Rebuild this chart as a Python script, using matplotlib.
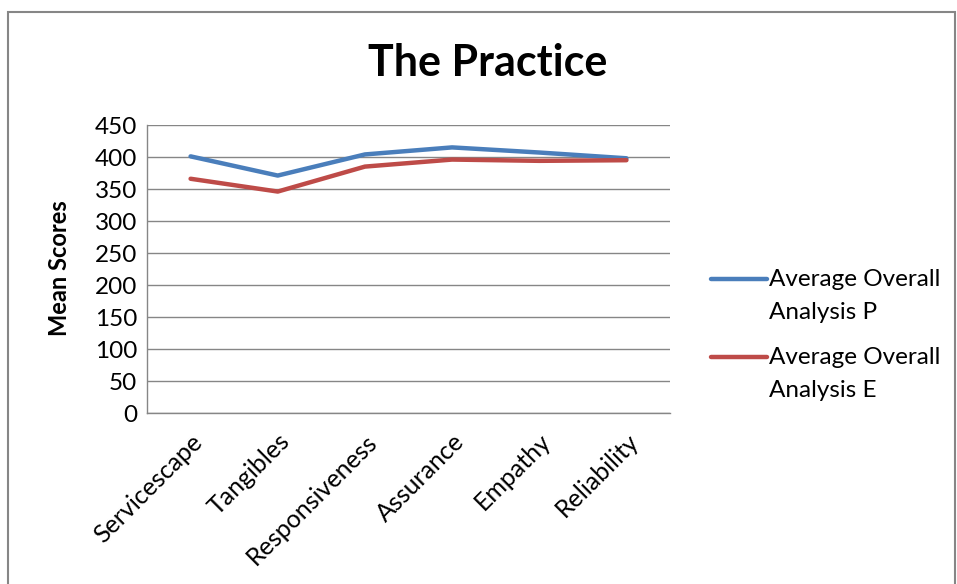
import matplotlib
matplotlib.use("Agg")
import matplotlib.pyplot as plt
from matplotlib.patches import Rectangle
from matplotlib.lines import Line2D

categories = ["Servicescape", "Tangibles", "Responsiveness", "Assurance", "Empathy", "Reliability"]
series_p = [401, 371, 404, 415, 407, 398]
series_e = [366, 346, 385, 396, 394, 395]
label_p = "Average Overall\nAnalysis P"
label_e = "Average Overall\nAnalysis E"
yticks = [0, 50, 100, 150, 200, 250, 300, 350, 400, 450]
color_p = "#4A7EBB"
color_e = "#BE4B48"

W, H = 957, 584
plt.rcParams["font.family"] = ["Lato", "DejaVu Sans"]
fig = plt.figure(figsize=(W / 100, H / 100), dpi=100)

# outer chart frame
fig.add_artist(Rectangle((8 / W, -0.05), (955 - 8) / W, 1.05 - 12 / H,
                         transform=fig.transFigure, fill=False,
                         edgecolor="#868686", lw=1.5))

ax = fig.add_axes([147 / W, 1 - 413 / H, (670 - 147) / W, (413 - 125) / H])
x = range(len(categories))
ax.plot(x, series_p, color=color_p, lw=3.2, solid_capstyle="round")
ax.plot(x, series_e, color=color_e, lw=3.2, solid_capstyle="round")

ax.set_xlim(-0.5, len(categories) - 0.5)
ax.set_ylim(0, 450)
ax.set_yticks(yticks)
ax.set_yticklabels([str(v) for v in yticks], fontsize=17.5)
ax.yaxis.grid(True, color="#868686", lw=1)
ax.set_axisbelow(True)
for s in ["top", "right"]:
    ax.spines[s].set_visible(False)
for s in ["left", "bottom"]:
    ax.spines[s].set_color("#868686")
    ax.spines[s].set_linewidth(1)
ax.tick_params(axis="both", length=0, pad=7)

ax.set_xticks(list(x))
ax.set_xticklabels(categories, rotation=45, ha="right", va="top",
                   rotation_mode="anchor", fontsize=18)
ax.tick_params(axis="x", pad=12)

fig.text(60 / W, 1 - 268 / H, "Mean Scores", fontsize=17, fontweight="bold",
         rotation=90, ha="center", va="center")
fig.text(488 / W, 1 - 63 / H, "The Practice", fontsize=31, fontweight="bold",
         ha="center", va="center")

# legend: handle aligned with the first text line
for label, color, y_line in [(label_p, color_p, 279), (label_e, color_e, 357)]:
    fig.add_artist(Line2D([711 / W, 767 / W], [1 - y_line / H] * 2,
                          transform=fig.transFigure, color=color, lw=3.2,
                          solid_capstyle="round"))
    fig.text(769 / W, 1 - (y_line - 10) / H, label, fontsize=17.5,
             ha="left", va="top", linespacing=1.7)

fig.savefig("out.png", dpi=100)
